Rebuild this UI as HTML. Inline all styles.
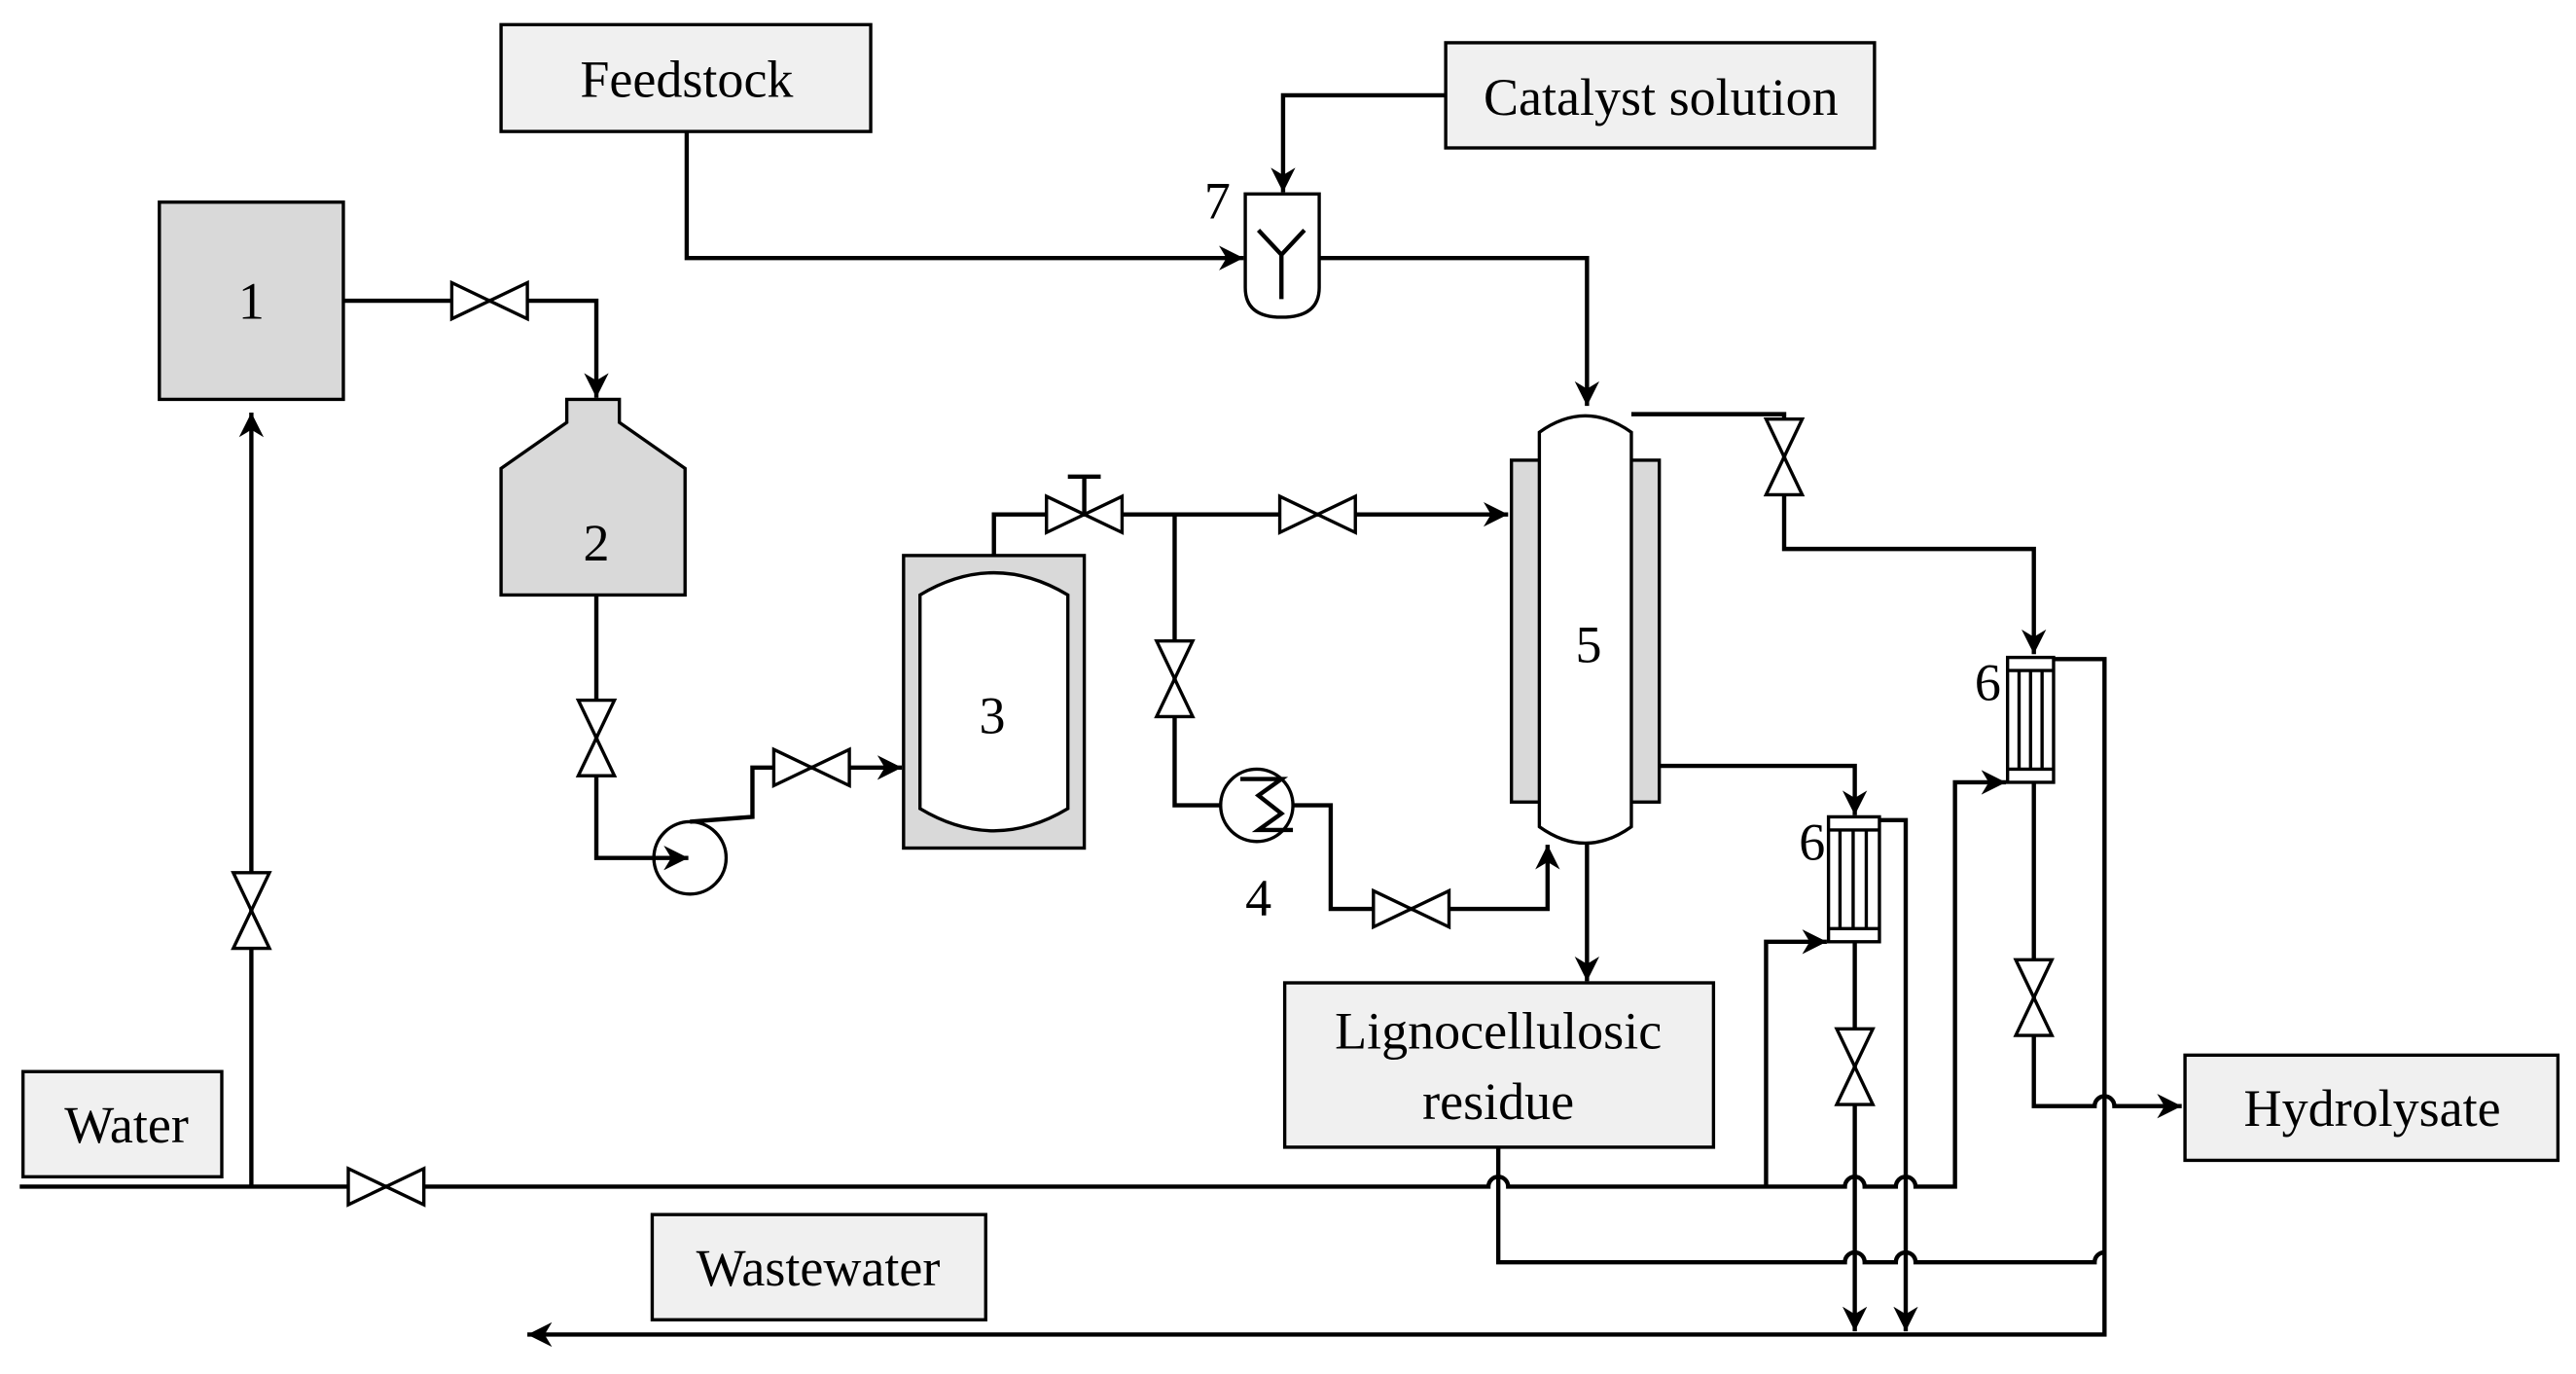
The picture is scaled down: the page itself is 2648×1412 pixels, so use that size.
<!DOCTYPE html>
<html><head><meta charset="utf-8"><style>
html,body{margin:0;padding:0;background:#fff}
svg{display:block}
text{font-family:"Liberation Serif",serif;fill:#000}
</style></head><body>
<svg width="2648" height="1412" viewBox="0 0 1568 836" preserveAspectRatio="none" xmlns="http://www.w3.org/2000/svg">
<defs>
<marker id="a" viewBox="0 0 10 10" refX="10" refY="5" markerWidth="15" markerHeight="15" markerUnits="userSpaceOnUse" orient="auto">
<path d="M0,0 L10,5 L0,10 L3,5 Z" fill="#000"/></marker>
<g id="vh"><path d="M-23,-11 L23,11 L23,-11 L-23,11 Z" fill="#fff" stroke="#000" stroke-width="2"/></g>
<g id="vv"><path d="M-11,-23 L11,23 L-11,23 L11,-23 Z" fill="#fff" stroke="#000" stroke-width="2"/></g>
</defs>
<style>.p{fill:none;stroke:#000;stroke-width:2.6}.b{fill:#f0f0f0;stroke:#000;stroke-width:2}</style>

<rect class="b" x="305" y="15" width="225" height="65"/><text x="418" y="59" font-size="32" text-anchor="middle">Feedstock</text>
<rect class="b" x="880" y="26" width="261" height="64"/><text x="1011" y="70" font-size="32" text-anchor="middle">Catalyst solution</text>
<rect class="b" x="14" y="652" width="121" height="64"/><text x="77" y="695" font-size="32" text-anchor="middle">Water</text>
<rect class="b" x="397" y="739" width="203" height="64"/><text x="498" y="782" font-size="32" text-anchor="middle">Wastewater</text>
<rect class="b" x="1330" y="642" width="227" height="64"/><text x="1444" y="685" font-size="32" text-anchor="middle">Hydrolysate</text>
<rect class="b" x="782" y="598" width="261" height="100"/><text x="912" y="638" font-size="32" text-anchor="middle">Lignocellulosic</text><text x="912" y="681" font-size="32" text-anchor="middle">residue</text>

<rect x="97" y="123" width="112" height="120" fill="#d9d9d9" stroke="#000" stroke-width="2"/><text x="153" y="194" font-size="32" text-anchor="middle">1</text>
<path d="M345,243 L377,243 L377,257 L417,285 L417,362 L305,362 L305,285 L345,257 Z" fill="#d9d9d9" stroke="#000" stroke-width="2"/><text x="363" y="341" font-size="32" text-anchor="middle">2</text>
<rect x="550" y="338" width="110" height="178" fill="#d9d9d9" stroke="#000" stroke-width="2"/>
<path d="M560,362 Q605,335 650,362 L650,492 Q605,519 560,492 Z" fill="#fff" stroke="#000" stroke-width="2"/>
<text x="604" y="446" font-size="32" text-anchor="middle">3</text>
<rect x="920" y="280" width="90" height="208" fill="#d9d9d9" stroke="#000" stroke-width="2"/>
<path d="M937,263 Q965,243 993,263 L993,503 Q965,523 937,503 Z" fill="#fff" stroke="#000" stroke-width="2"/>
<text x="967" y="403" font-size="32" text-anchor="middle">5</text>
<path d="M758,118 L803,118 L803,175 Q803,193 780,193 Q758,193 758,175 Z" fill="#fff" stroke="#000" stroke-width="2"/>
<path d="M766,140 L780,155 L794,140 M780,155 L780,182" class="p" stroke-width="2"/>
<text x="741" y="133" font-size="32" text-anchor="middle">7</text>
<circle cx="420" cy="522" r="22" fill="#fff" stroke="#000" stroke-width="2"/>
<circle cx="765" cy="490" r="22" fill="#fff" stroke="#000" stroke-width="2"/>
<path d="M755,474 L780,474 L766,484 L780,495 L766,505 L787,505" class="p" stroke-width="2"/>
<text x="766" y="557" font-size="32" text-anchor="middle">4</text>
<g fill="#fff" stroke="#000" stroke-width="2">
<rect x="1222" y="400" width="28" height="76"/><line x1="1222" y1="408" x2="1250" y2="408"/><line x1="1222" y1="468" x2="1250" y2="468"/>
<line x1="1229" y1="408" x2="1229" y2="468"/><line x1="1236" y1="408" x2="1236" y2="468"/><line x1="1243" y1="408" x2="1243" y2="468"/>
<rect x="1113" y="497" width="31" height="76"/><line x1="1113" y1="505" x2="1144" y2="505"/><line x1="1113" y1="565" x2="1144" y2="565"/>
<line x1="1120" y1="505" x2="1120" y2="565"/><line x1="1128" y1="505" x2="1128" y2="565"/><line x1="1136" y1="505" x2="1136" y2="565"/>
</g>
<text x="1210" y="426" font-size="32" text-anchor="middle">6</text>
<text x="1103" y="523" font-size="32" text-anchor="middle">6</text>

<path class="p" d="M209,183 L363,183 L363,242" marker-end="url(#a)"/>
<path class="p" d="M363,362 L363,522 L419,522" marker-end="url(#a)"/>
<path class="p" d="M420,500 L458,497 L458,467 L549,467" marker-end="url(#a)"/>
<path class="p" d="M605,338 L605,313 L918,313" marker-end="url(#a)"/>
<path class="p" d="M715,313 L715,490 L743,490"/>
<path class="p" d="M787,490 L810,490 L810,553 L942,553 L942,514" marker-end="url(#a)"/>
<path class="p" d="M880,58 L781,58 L781,117" marker-end="url(#a)"/>
<path class="p" d="M418,80 L418,157 L757,157" marker-end="url(#a)"/>
<path class="p" d="M803,157 L966,157 L966,247" marker-end="url(#a)"/>
<path class="p" d="M993,252 L1086,252 L1086,334 L1238,334 L1238,398" marker-end="url(#a)"/>
<path class="p" d="M1010,466 L1129,466 L1129,496" marker-end="url(#a)"/>
<path class="p" d="M1250,401 L1281,401 L1281,812 L321,812" marker-end="url(#a)"/>
<path class="p" d="M1144,499 L1160,499 L1160,810" marker-end="url(#a)"/>
<path class="p" d="M1129,573 L1129,810" marker-end="url(#a)"/>
<path class="p" d="M1238,476 L1238,673 L1275,673 A6,6 0 0 1 1287,673 L1328,673" marker-end="url(#a)"/>
<path class="p" d="M12,722 L906,722 A6,6 0 0 1 918,722 L1123,722 A6,6 0 0 1 1135,722 L1154,722 A6,6 0 0 1 1166,722 L1190,722 L1190,476 L1221,476" marker-end="url(#a)"/>
<path class="p" d="M1075,722 L1075,573 L1112,573" marker-end="url(#a)"/>
<path class="p" d="M153,722 L153,251" marker-end="url(#a)"/>
<path class="p" d="M966,513 L966,597" marker-end="url(#a)"/>
<path class="p" d="M912,698 L912,768 L1123,768 A6,6 0 0 1 1135,768 L1154,768 A6,6 0 0 1 1166,768 L1275,768 A6,6 0 0 1 1281,762"/>

<use href="#vh" x="298" y="183"/>
<use href="#vv" x="363" y="449"/>
<use href="#vh" x="494" y="467"/>
<use href="#vh" x="660" y="313"/>
<path class="p" d="M660,313 L660,290 M650,290 L670,290" stroke-width="2"/>
<use href="#vh" x="802" y="313"/>
<use href="#vv" x="715" y="413"/>
<use href="#vh" x="859" y="553"/>
<use href="#vv" x="1086" y="278"/>
<use href="#vv" x="1129" y="649"/>
<use href="#vv" x="1238" y="607"/>
<use href="#vh" x="235" y="722"/>
<use href="#vv" x="153" y="554"/>
</svg>
</body></html>
